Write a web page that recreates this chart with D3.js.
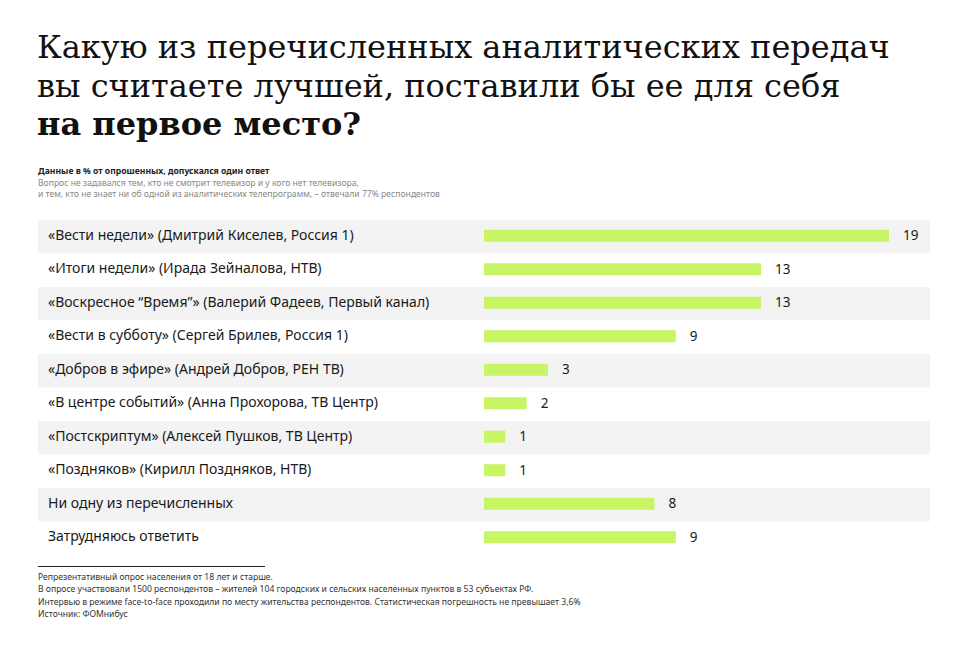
<!DOCTYPE html>
<html>
<head>
<meta charset="utf-8">
<script src="https://cdn.jsdelivr.net/npm/d3@7"></script>
<style>
  body { margin: 0; background: #fff; }
  .title { font-family: "DejaVu Serif", serif; font-size: 32px; fill: #111; }
  .note { font-family: "Noto Sans", sans-serif; font-size: 8.6px; }
  .row-label { font-family: "Noto Sans", sans-serif; font-size: 14px; fill: #1a1a1a; }
  .value-label { font-family: "Noto Sans", sans-serif; font-size: 13.5px; fill: #1a1a1a; }
</style>
</head>
<body>
<div id="chart"></div>
<script>

// Data
var categories = [
  '«Вести недели» (Дмитрий Киселев, Россия 1)',
  '«Итоги недели» (Ирада Зейналова, НТВ)',
  '«Воскресное “Время”» (Валерий Фадеев, Первый канал)',
  '«Вести в субботу» (Сергей Брилев, Россия 1)',
  '«Добров в эфире» (Андрей Добров, РЕН ТВ)',
  '«В центре событий» (Анна Прохорова, ТВ Центр)',
  '«Постскриптум» (Алексей Пушков, ТВ Центр)',
  '«Поздняков» (Кирилл Поздняков, НТВ)',
  'Ни одну из перечисленных',
  'Затрудняюсь ответить'
];
var values = [19, 13, 13, 9, 3, 2, 1, 1, 8, 9];

var titleLines = [
  'Какую из перечисленных аналитических передач',
  'вы считаете лучшей, поставили бы ее для себя',
  'на первое место?'
];
var subtitleLines = [
  'Данные в % от опрошенных, допускался один ответ',
  'Вопрос не задавался тем, кто не смотрит телевизор и у кого нет телевизора,',
  'и тем, кто не знает ни об одной из аналитических телепрограмм, – отвечали 77% респондентов'
];
var footerLines = [
  'Репрезентативный опрос населения от 18 лет и старше.',
  'В опросе участвовали 1500 респондентов – жителей 104 городских и сельских населенных пунктов в 53 субъектах РФ.',
  'Интервью в режиме face-to-face проходили по месту жительства респондентов. Статистическая погрешность не превышает 3,6%',
  'Источник: ФОМнибус'
];

var width = 966,
    height = 663;

var svg = d3.select('#chart')
  .append('svg')
    .attr('width', width)
    .attr('height', height);

// Title
svg.selectAll('.title')
  .data(titleLines)
  .enter()
    .append('text')
      .attr('class', 'title')
      .attr('x', 37)
      .attr('y', function(d, i){ return 58 + i * 38.5; })
      .style('font-weight', function(d, i){ return i === 2 ? 'bold' : 'normal'; })
      .text(function(d){ return d; });

// Subtitle
svg.selectAll('.subtitle')
  .data(subtitleLines)
  .enter()
    .append('text')
      .attr('class', 'note')
      .attr('x', 38)
      .attr('y', function(d, i){ return 174 + i * 11.5; })
      .style('font-weight', function(d, i){ return i === 0 ? 'bold' : 'normal'; })
      .style('fill', function(d, i){ return i === 0 ? '#222' : '#888'; })
      .text(function(d){ return d; });

// Scales
var y = d3.scaleBand()
  .domain(categories)
  .range([220, 555])
  .paddingInner(0)
  .paddingOuter(0);

var x = d3.scaleLinear()
  .domain([0, 19])
  .range([484, 889]);

var rows = svg.selectAll('.row')
  .data(categories)
  .enter()
    .append('g')
      .attr('class', 'row')
      .attr('transform', function(d){ return 'translate(0,' + y(d) + ')'; });

// Stripes
rows.append('rect')
  .attr('x', 38)
  .attr('width', 892)
  .attr('height', y.bandwidth())
  .attr('fill', function(d, i){ return i % 2 === 0 ? '#f3f3f3' : '#fff'; });

// Labels
rows.append('text')
  .attr('class', 'row-label')
  .attr('x', 48)
  .attr('y', y.bandwidth() / 2 - 2)
  .attr('dy', '0.35em')
  .text(function(d){ return d; });

// Bars
rows.append('rect')
  .attr('x', x(0))
  .attr('y', y.bandwidth() / 2 - 7)
  .attr('height', 12)
  .attr('width', function(d, i){ return x(values[i]) - x(0); })
  .attr('fill', '#c8f564');

// Value labels
rows.append('text')
  .attr('class', 'value-label')
  .attr('x', function(d, i){ return x(values[i]) + 14; })
  .attr('y', y.bandwidth() / 2 - 1)
  .attr('dy', '0.35em')
  .text(function(d, i){ return values[i]; });

// Footer
svg.append('line')
  .attr('x1', 38)
  .attr('x2', 265)
  .attr('y1', 566.5)
  .attr('y2', 566.5)
  .attr('stroke', '#222')
  .attr('stroke-width', 1);

svg.selectAll('.footer')
  .data(footerLines)
  .enter()
    .append('text')
      .attr('class', 'note')
      .attr('x', 38)
      .attr('y', function(d, i){ return 580 + i * 12.3; })
      .style('fill', '#333')
      .text(function(d){ return d; });

</script>
</body>
</html>
